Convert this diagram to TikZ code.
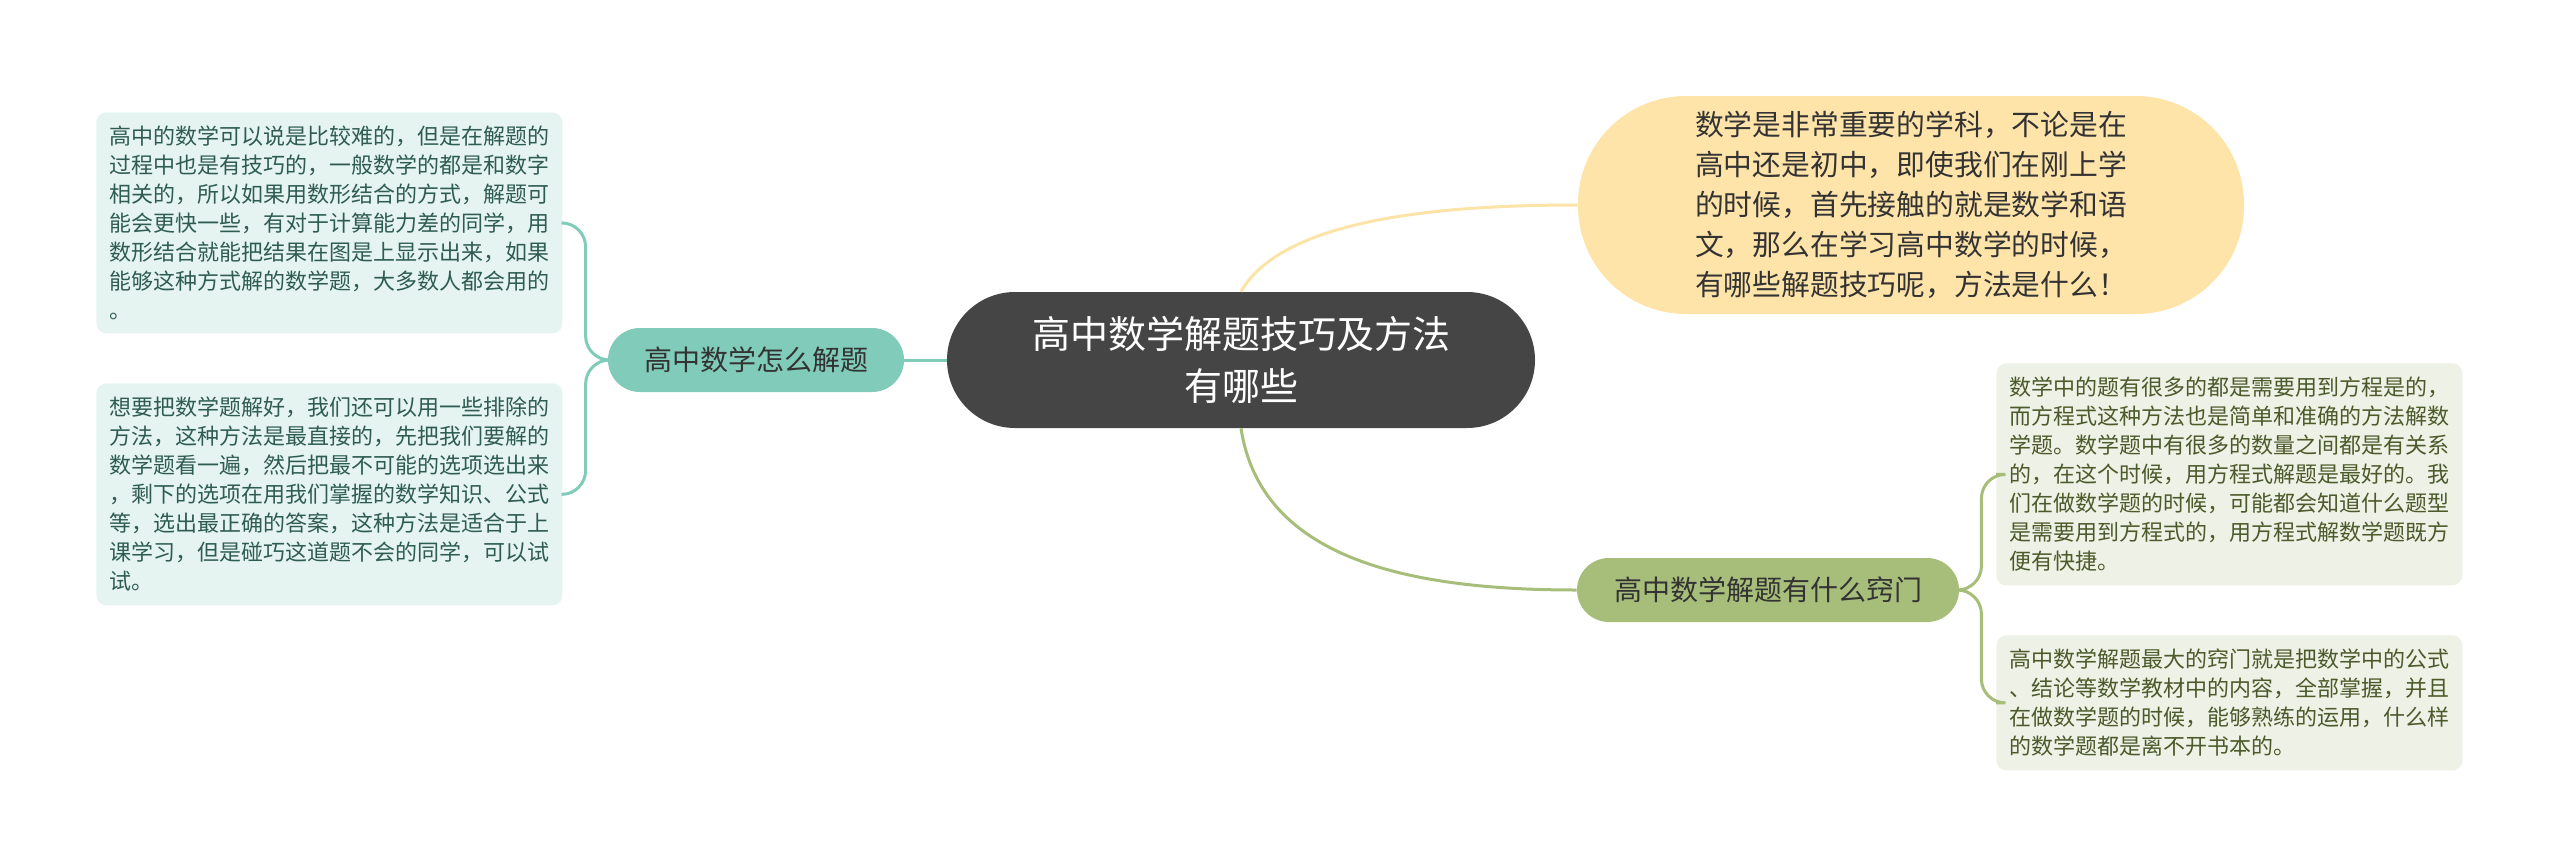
\documentclass[tikz,border=0pt]{standalone}
\usepackage{fontspec}
\setmainfont{Noto Sans CJK SC}
\usetikzlibrary{positioning}
\definecolor{centrefill}{HTML}{454545}
\definecolor{notefill}{HTML}{FFE4AA}
\definecolor{noteline}{HTML}{FCE4A8}
\definecolor{tealmain}{HTML}{80CBB9}
\definecolor{tealpale}{HTML}{E5F4F1}
\definecolor{tealtext}{HTML}{2F5C52}
\definecolor{olivemain}{HTML}{A7BE7A}
\definecolor{olivepale}{HTML}{EEF1E5}
\definecolor{olivetext}{HTML}{4B5A2B}

\begin{document}
\begin{tikzpicture}[
      x=0.5pt, y=-0.5pt,
      topic/.style={
         rounded corners=34pt,
         fill=centrefill,
         text=white,
         align=center,
         inner sep=0pt,
         minimum width=294pt,
         minimum height=68pt,
         font=\fontsize{19}{26}\selectfont},
      bubble/.style={
         rounded corners=54pt,
         fill=notefill,
         text=black!80,
         align=left,
         inner sep=0pt,
         minimum width=333pt,
         minimum height=109pt,
         font=\fontsize{14.4}{20}\selectfont},
      branch/.style={
         rounded corners=16pt,
         fill=#1,
         text=black!80,
         inner sep=0pt,
         minimum height=32pt,
         font=\fontsize{14}{18}\selectfont},
      leaf/.style={
         rounded corners=5pt,
         align=left,
         anchor=north west,
         inner sep=0pt,
         text width=220pt,
         minimum width=233pt,
         font=\fontsize{11}{14.5}\selectfont},
      tealleaf/.style={leaf, fill=tealpale, text=tealtext},
      oliveleaf/.style={leaf, fill=olivepale, text=olivetext},
      link/.style={line width=1.5pt, draw=#1}
      ]
      \useasboundingbox (0,0) rectangle (2560,867);

      \node[topic] (centre) at (1241,360) {高中数学解题技巧及方法\\有哪些};
      \node[bubble] (intro) at (1911,205) {数学是非常重要的学科，不论是在\\高中还是初中，即使我们在刚上学\\的时候，首先接触的就是数学和语\\文，那么在学习高中数学的时候，\\有哪些解题技巧呢，方法是什么！};
      \node[branch=tealmain, minimum width=148pt] (howto) at (756,360) {高中数学怎么解题};
      \node[branch=olivemain, minimum width=191pt] (trick) at (1768,590) {高中数学解题有什么窍门};

      % leaves on the left
      \node[tealleaf, minimum height=110.5pt] (lbox1) at (96,112) {高中的数学可以说是比较难的，但是在解题的\\过程中也是有技巧的，一般数学的都是和数字\\相关的，所以如果用数形结合的方式，解题可\\能会更快一些，有对于计算能力差的同学，用\\数形结合就能把结果在图是上显示出来，如果\\能够这种方式解的数学题，大多数人都会用的\\。};
      \node[tealleaf, minimum height=111pt] (lbox2) at (96,383) {想要把数学题解好，我们还可以用一些排除的\\方法，这种方法是最直接的，先把我们要解的\\数学题看一遍，然后把最不可能的选项选出来\\，剩下的选项在用我们掌握的数学知识、公式\\等，选出最正确的答案，这种方法是适合于上\\课学习，但是碰巧这道题不会的同学，可以试\\试。};

      % leaves on the right
      \node[oliveleaf, minimum height=111pt] (rbox1) at (1996,363) {数学中的题有很多的都是需要用到方程是的，\\而方程式这种方法也是简单和准确的方法解数\\学题。数学题中有很多的数量之间都是有关系\\的，在这个时候，用方程式解题是最好的。我\\们在做数学题的时候，可能都会知道什么题型\\是需要用到方程式的，用方程式解数学题既方\\便有快捷。};
      \node[oliveleaf, minimum height=67.5pt] (rbox2) at (1996,635) {高中数学解题最大的窍门就是把数学中的公式\\、结论等数学教材中的内容，全部掌握，并且\\在做数学题的时候，能够熟练的运用，什么样\\的数学题都是离不开书本的。};

      \draw[link=noteline] (centre.north) .. controls +(40,-70) and +(-150,0) .. (intro.west);
      \draw[link=tealmain] (centre.west) -- (howto.east);
      \draw[link=olivemain] (centre.south) .. controls +(20,130) and +(-170,0) .. (trick.west);

      \foreach \b in {lbox1,lbox2}
        \draw[link=tealmain, rounded corners=12pt] (howto.west) -- ++(-22,0) |- (\b.east);
      \foreach \b in {rbox1,rbox2}
        \draw[link=olivemain, rounded corners=12pt] (trick.east) -- ++(22,0) |- (\b.west);
\end{tikzpicture}
\end{document}
